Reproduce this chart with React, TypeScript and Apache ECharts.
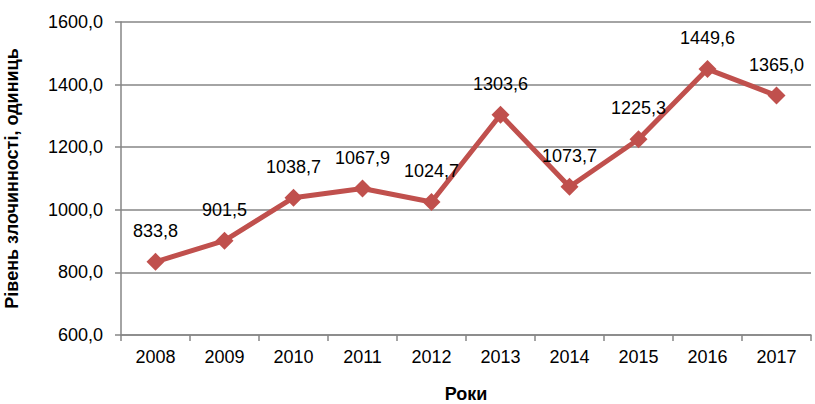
import React, { useEffect, useRef } from "react";
import * as echarts from "echarts";

const years = ["2008", "2009", "2010", "2011", "2012", "2013", "2014", "2015", "2016", "2017"];
const crimeLevel = [833.8, 901.5, 1038.7, 1067.9, 1024.7, 1303.6, 1073.7, 1225.3, 1449.6, 1365.0];

const fmt = (v: number) => v.toFixed(1).replace(".", ",");

export default function App() {
  const ref = useRef<HTMLDivElement>(null);
  useEffect(() => {
    if (!ref.current) return;
    const chart = echarts.init(ref.current, null, { renderer: "svg" });
    const font = "'Liberation Sans', Arial, sans-serif";
    chart.setOption({
      animation: false,
      textStyle: { fontFamily: font },
      grid: { left: 121, right: 4, top: 22, bottom: 69, containLabel: false, outerBoundsMode: "none" },
      xAxis: {
        type: "category",
        data: years,
        boundaryGap: true,
        name: "Роки",
        nameLocation: "middle",
        nameGap: 50,
        nameTextStyle: { fontSize: 18, fontWeight: "bold", color: "#000", fontFamily: font },
        axisLine: { lineStyle: { color: "#868686", width: 1.5 } },
        axisTick: { show: true, length: 6, lineStyle: { color: "#868686", width: 1.5 } },
        axisLabel: { fontSize: 18, color: "#000", margin: 13, fontFamily: font },
      },
      yAxis: {
        type: "value",
        min: 600,
        max: 1600,
        interval: 200,
        name: "Рівень злочинності, одиниць",
        nameLocation: "middle",
        nameGap: 100,
        nameRotate: 90,
        nameTextStyle: { fontSize: 18, fontWeight: "bold", color: "#000", fontFamily: font },
        axisLine: { show: true, lineStyle: { color: "#868686", width: 1.5 } },
        axisTick: { show: true, length: 6, lineStyle: { color: "#868686", width: 1.5 } },
        axisLabel: { fontSize: 18, color: "#000", margin: 18, formatter: (v: number) => fmt(v), fontFamily: font },
        splitLine: { show: true, lineStyle: { color: "#868686", width: 1.5 } },
      },
      series: [
        {
          type: "line",
          data: crimeLevel,
          symbol: "diamond",
          symbolSize: 18,
          lineStyle: { color: "#c0504d", width: 5 },
          itemStyle: { color: "#c0504d" },
          label: {
            show: true,
            position: "top",
            distance: 13,
            fontSize: 18,
            color: "#000",
            fontFamily: font,
            formatter: (p: any) => fmt(p.value),
          },
        },
      ],
    });
    return () => chart.dispose();
  }, []);
  return <div ref={ref} style={{ width: 815, height: 404, position: "absolute", left: 0, top: 0 }} />;
}
